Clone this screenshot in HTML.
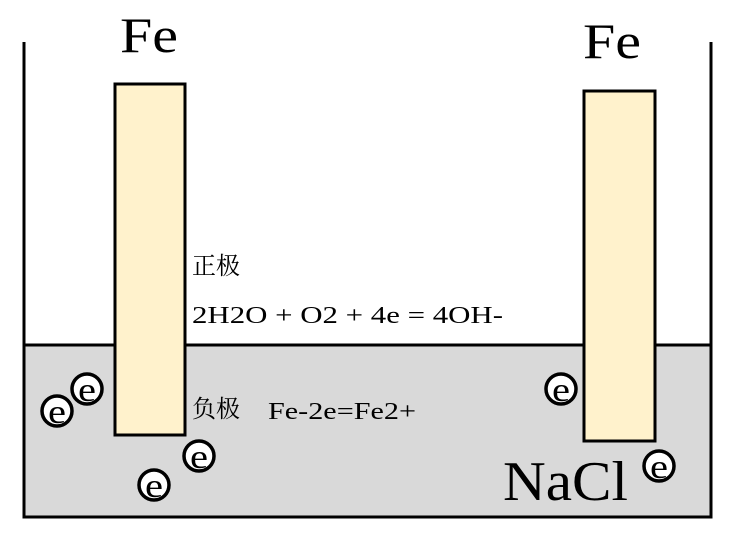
<html><body style="margin:0;width:730px;height:533px;background:#fff;position:relative;overflow:hidden">
<svg width="730" height="533" style="position:absolute;left:0;top:0">
<rect x="24" y="345" width="687" height="172" fill="#d9d9d9" stroke="#000" stroke-width="3"/>
<line x1="24" y1="42" x2="24" y2="518" stroke="#000" stroke-width="3"/>
<line x1="711" y1="42" x2="711" y2="518" stroke="#000" stroke-width="3"/>
<rect x="115" y="84" width="70" height="351" fill="#fff2cc" stroke="#000" stroke-width="3"/>
<rect x="584" y="91" width="71" height="350" fill="#fff2cc" stroke="#000" stroke-width="3"/>
<g fill="#fff" stroke="#000" stroke-width="3.5">
<circle cx="57" cy="411" r="15"/><circle cx="87" cy="389" r="15"/>
<circle cx="199" cy="456" r="15"/><circle cx="154" cy="485" r="15"/>
<circle cx="561" cy="389" r="15"/><circle cx="659" cy="466" r="15"/>
</g>
<g font-family="Liberation Serif,serif" font-size="34" text-anchor="middle" fill="#000">
<text x="57" y="423" textLength="18" lengthAdjust="spacingAndGlyphs">e</text><text x="87" y="401" textLength="18" lengthAdjust="spacingAndGlyphs">e</text>
<text x="199" y="468" textLength="18" lengthAdjust="spacingAndGlyphs">e</text><text x="154" y="497" textLength="18" lengthAdjust="spacingAndGlyphs">e</text>
<text x="561" y="401" textLength="18" lengthAdjust="spacingAndGlyphs">e</text><text x="659" y="478" textLength="18" lengthAdjust="spacingAndGlyphs">e</text>
</g>
<g fill="#000" font-family="Liberation Serif,serif">
<text x="120" y="52" font-size="50" textLength="58" lengthAdjust="spacingAndGlyphs">Fe</text>
<text x="583" y="58" font-size="50" textLength="58" lengthAdjust="spacingAndGlyphs">Fe</text>
<text x="192" y="274" font-family="Noto Serif CJK SC,serif" font-size="24">正极</text>
<text x="192" y="323" font-size="24" textLength="311" lengthAdjust="spacingAndGlyphs" xml:space="preserve">2H2O + O2 + 4e = 4OH-</text>
<text x="192" y="417" font-family="Noto Serif CJK SC,serif" font-size="24">负极</text>
<text x="268" y="419" font-size="24" textLength="148" lengthAdjust="spacingAndGlyphs">Fe-2e=Fe2+</text>
<text x="503" y="500" font-size="56" textLength="125" lengthAdjust="spacingAndGlyphs">NaCl</text>
</g>
</svg>
</body></html>
